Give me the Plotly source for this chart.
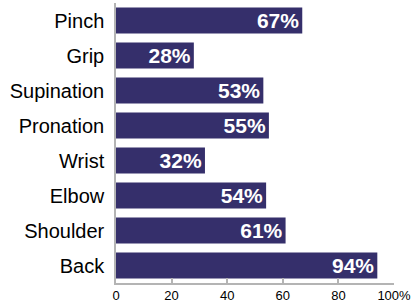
import plotly.graph_objects as go

categories = ["Pinch", "Grip", "Supination", "Pronation", "Wrist", "Elbow", "Shoulder", "Back"]
values = [67, 28, 53, 55, 32, 54, 61, 94]
tick_vals = [0, 20, 40, 60, 80, 100]
tick_labels = ["0", "20", "40", "60", "80", "100%"]

fig = go.Figure(go.Bar(
    y=categories,
    x=values,
    orientation="h",
    marker=dict(color="#352f6b", line=dict(width=0)),
    width=0.74,
    text=[f"{v}%" for v in values],
    textposition="inside",
    insidetextanchor="end",
    textangle=0,
    constraintext="none",
    textfont=dict(family="Liberation Sans, Arial, sans-serif",
                  size=21, color="white", weight="bold"),
    hoverinfo="skip",
))

fig.update_layout(
    width=415, height=305,
    margin=dict(l=116, r=21, t=3, b=22),
    plot_bgcolor="white", paper_bgcolor="white",
    showlegend=False,
    bargap=0.26,
)
fig.update_yaxes(
    categoryorder="array", categoryarray=categories, autorange="reversed",
    showline=True, linecolor="#b4b4b4", linewidth=1.5,
    ticks="", showgrid=False, automargin=False,
    tickfont=dict(family="Liberation Sans, Arial, sans-serif", size=20, color="black"),
    ticklabelstandoff=6,
)
fig.update_xaxes(
    range=[0, 100], tickvals=tick_vals, ticktext=tick_labels,
    showline=True, linecolor="#b4b4b4", linewidth=1.5,
    ticks="inside", ticklen=5, tickcolor="#b4b4b4", tickwidth=1.5,
    showgrid=False, zeroline=False, automargin=False,
    tickfont=dict(family="Liberation Sans, Arial, sans-serif", size=13, color="black"),
)

fig.write_html("out.html", config={"displayModeBar": False},
               post_script="document.body.style.margin='0px';")
